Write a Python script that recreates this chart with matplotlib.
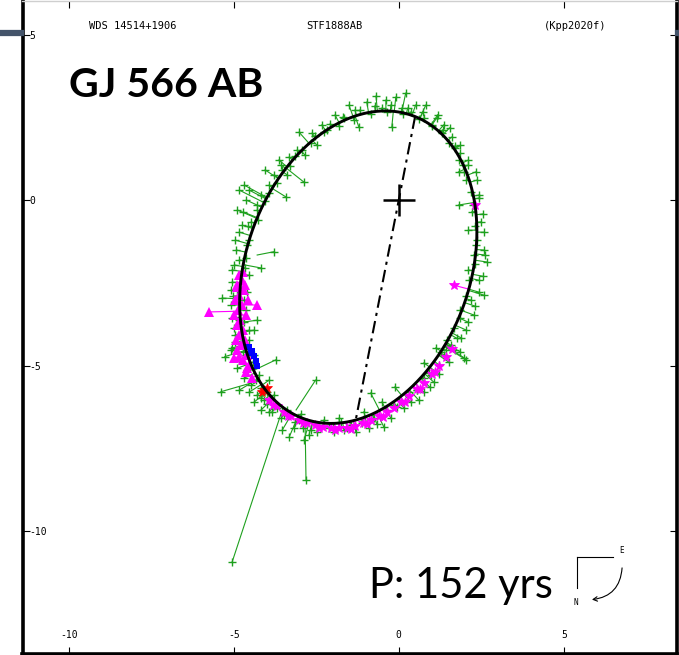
import numpy as np
import matplotlib
matplotlib.use("Agg")
import matplotlib.pyplot as plt
from matplotlib.patches import FancyArrowPatch
from matplotlib.lines import Line2D

plt.rcParams["axes.unicode_minus"] = False

# ---- orbital elements (arcsec / degrees) ----
period_yr = 152
semi_major = 4.95
ecc = 0.497
incl = 141.0
node_deg = 168.9
omega_deg = 25.2

# ---- micrometer / photographic measures (green), offsets in arcsec ----
top_x = [-3.08, -3.32, -2.84, -3.02, -2.63, -2.33, -1.93, -1.51, -1.21, -0.97, -0.69, -0.39,
         -0.09, -0.21, 0.21, 0.51, 0.82, 1.18, 1.30, 1.60, 1.51, 1.87, 1.96, 2.11, 1.81, 2.33,
         1.81, -2.87, -3.38, -3.41, -3.56, -3.78, -3.93, -4.17, -4.29, -4.53, -4.62, -4.05,
         -3.63, -2.48, -2.18, -1.66, -1.33, -0.51, 0.09, 0.36, 0.76, 1.00, 1.36, 1.69, 2.05,
         2.42, 2.24, 2.48, 2.11, -4.68,
         -4.56, -4.26, -4.29, -4.05, -3.93, -3.69, -3.53, -3.29, -3.14, -2.93, -2.66, -2.54,
         -2.27, -2.08, -1.81, -1.69, -1.36, -1.18, -0.85, -0.73, -0.36, -0.24, 0.12, 0.27,
         0.60, 0.73, 1.00, 1.15, 1.33, 1.54, 1.69, 1.87, 1.84, 2.11, 1.99, 2.36, 2.18, 2.42,
         2.21, 2.54, 2.30, 2.57]
top_y = [1.51, 1.30, 1.36, 2.05, 2.02, 2.27, 2.57, 2.87, 2.21, 2.96, 3.14, 3.02,
         3.11, 2.21, 3.23, 2.87, 2.87, 2.57, 2.02, 1.90, 1.72, 1.42, 1.06, 1.21, 0.85, 0.85,
         -0.15, 0.54, 0.76, 0.09, 1.06, 0.76, 0.45, 0.15, -0.15, 0.30, 0.00, 0.91,
         1.21, 1.66, 2.11, 2.48, 2.72, 2.78, 2.78, 2.66, 2.48, 2.27, 2.27, 1.57, 0.60,
         0.15, -0.15, -0.66, -0.91, 0.45,
         -0.79, -0.60, -0.30, -0.03, 0.21, 0.51, 0.91, 1.03, 1.33, 1.51, 1.72, 1.93,
         2.05, 2.30, 2.24, 2.51, 2.42, 2.72, 2.60, 2.84, 2.66, 2.87, 2.60, 2.78,
         2.45, 2.66, 2.24, 2.48, 2.11, 2.18, 1.63, 1.66, 1.21, 1.06, 0.85, 0.60, 0.24, 0.06,
         -0.36, -0.42, -0.79, -0.97]
right_x = [2.36, 2.57, 2.27, 2.66, 2.11, 2.42, 2.57, 2.18, 1.87, 2.27, 2.05, 1.75, 1.57,
           1.87, 2.05,
           2.33, 2.60, 2.30, 2.54, 2.14, 2.42, 2.05, 2.30, 1.87, 2.11, 1.66, 1.90, 1.45,
           1.69, 1.27, 1.51]
right_y = [-1.21, -1.51, -1.66, -1.87, -2.11, -2.42, -2.87, -3.02, -3.32, -3.47, -3.93,
           -4.17, -4.38, -4.59, -4.83,
           -1.36, -1.66, -1.93, -2.30, -2.42, -2.78, -2.90, -3.20, -3.56, -3.69, -3.87,
           -4.17, -4.23, -4.53, -4.59, -4.89]
bottom_x = [1.36, 1.21, 0.97, 0.76, 0.54, 0.30, 0.60, 0.00, -0.15, -0.36, -0.76, -1.06,
            -1.45, -1.66, -1.81, -2.11, -2.42, -2.66, -3.02, -3.17, -3.47, -3.69, -3.87,
            -3.99, -4.17, -3.93, -3.53, -3.32, -2.87, -2.72, -0.85, -0.12, -0.51, -0.06,
            0.54, 0.91, 0.94, 0.76, 1.12, 1.42, 1.99, -0.45, -1.57, -1.12,
            -3.84, -3.56, -3.38, -3.14, -2.90, -2.96, -2.48, -2.27, -1.96, -1.75, -1.30,
            -0.91, -0.66, -0.24, 0.15, 0.36, 0.76, 1.06, 1.21]
bottom_y = [-4.68, -4.98, -5.29, -5.38, -5.74, -5.80, -6.04, -6.04, -6.19, -6.34, -6.59,
            -6.40, -6.80, -6.95, -6.59, -6.89, -6.80, -6.95, -6.65, -6.89, -6.50, -6.28,
            -6.04, -5.80, -5.68, -6.40, -6.95, -7.16, -7.25, -7.10, -5.83, -5.65, -6.10,
            -6.25, -5.74, -5.23, -5.65, -4.92, -4.47, -4.53, -4.77, -6.86, -6.89, -6.74,
            -6.40, -6.59, -6.34, -6.71, -6.89, -6.46, -7.01, -6.65, -7.01, -6.71, -7.01,
            -6.89, -6.77, -6.59, -6.28, -6.10, -5.80, -5.50, -5.26]
left_x = [-4.83, -4.89, -4.74, -4.95, -4.59, -4.83, -5.05, -4.53, -4.89, -4.68, -5.08,
          -4.83, -4.53, -4.95, -4.68, -5.08, -4.38, -4.83, -4.59, -4.23, -4.47, -4.29,
          -4.08, -3.78, -4.17, -5.35, -5.08, -4.29, -4.38, -5.27, -5.05, -3.73, -3.93,
          -4.83, -4.18,
          -4.71, -4.47, -4.83, -4.53, -4.92, -4.62, -4.98, -4.65, -5.05, -4.59, -5.01,
          -4.62, -5.05, -4.68, -4.98, -4.53, -4.95, -4.71, -4.89, -4.41, -4.68, -4.32,
          -4.53, -4.17, -4.38, -3.99]
left_y = [0.30, -0.30, -0.76, -1.21, -1.36, -1.81, -2.11, -2.27, -2.72, -3.02, -3.17,
          -3.63, -3.93, -4.08, -4.38, -4.53, -4.68, -4.83, -5.14, -5.29, -5.59, -5.89,
          -6.04, -5.89, -6.34, -2.96, -2.72, -3.63, -3.93, -4.73, -4.47, -4.83, -5.44,
          -5.74, -2.05,
          -0.36, -0.66, -0.97, -1.21, -1.51, -1.75, -1.96, -2.05, -2.48, -2.78, -2.90,
          -3.32, -3.56, -3.69, -3.87, -4.23, -4.29, -4.59, -5.08, -4.89, -5.38, -5.44,
          -5.80, -5.98, -6.10, -6.16]

# discordant measures and their ephemeris positions
stray_x = [-5.05, -2.81, -2.52, -5.39, -3.78]
stray_y = [-10.94, -8.46, -5.44, -5.79, -1.56]
stray_ex = [-3.50, -2.84, -3.11, -4.48, -4.29]
stray_ey = [-6.25, -6.65, -6.34, -5.53, -1.66]

# ---- speckle measures (magenta) ----
speckle_x = [-3.93, -3.69, -3.47, -3.26, -3.02, -2.78, -2.54, -2.30, -2.05, -1.81, -1.57,
             -1.33, -1.09, -0.85, -0.60, -0.36, -0.15, 0.06, 0.30, 0.54, 0.76, 1.00, 1.21,
             1.42, 1.60, 1.66, 2.30, -3.80, -3.35, -2.90, -2.42, -1.93, -1.45, -0.97,
             -0.48, 0.18, 0.65, 1.10]
speckle_y = [-6.04, -6.22, -6.40, -6.53, -6.65, -6.74, -6.80, -6.86, -6.89, -6.89, -6.89,
             -6.83, -6.74, -6.65, -6.53, -6.40, -6.28, -6.10, -5.92, -5.71, -5.53, -5.26,
             -5.02, -4.74, -4.50, -2.57, -0.15, -6.20, -6.52, -6.75, -6.88, -6.95, -6.92,
             -6.78, -6.55, -6.10, -5.70, -5.20]
tri_x = [-5.74, -4.29, -4.89, -4.83, -4.59, -4.98, -4.71,
         -4.83, -4.74, -4.89, -4.68, -4.83, -4.95, -4.74, -4.86, -4.62, -4.80, -4.89,
         -4.71, -4.83, -4.65, -4.77, -4.89, -4.59, -4.71, -4.53, -4.62, -4.44, -4.56,
         -4.65, -4.98, -4.92]
tri_y = [-3.38, -3.17, -2.63, -4.74, -5.08, -4.77, -2.18,
         -2.27, -2.42, -2.57, -2.72, -2.87, -3.02, -3.17, -3.32, -3.47, -3.63, -3.78,
         -3.93, -4.08, -4.23, -4.38, -4.53, -4.68, -4.83, -4.98, -5.20, -5.38, -3.02,
         -2.57, -3.47, -4.23]

# ---- other techniques ----
blue_x = [-4.53, -4.44, -4.38, -4.32, -4.29, -4.47]
blue_y = [-4.44, -4.56, -4.71, -4.86, -5.02, -4.62]
red_x = [-4.14, -3.99, -4.08]
red_y = [-5.80, -5.68, -5.74]

tick_vals = [-10, -5, 0, 5]


def thiele_innes(a, i, Om, w):
    i, Om, w = np.radians([i, Om, w])
    A = a * (np.cos(w) * np.cos(Om) - np.sin(w) * np.sin(Om) * np.cos(i))
    B = a * (np.cos(w) * np.sin(Om) + np.sin(w) * np.cos(Om) * np.cos(i))
    F = a * (-np.sin(w) * np.cos(Om) - np.cos(w) * np.sin(Om) * np.cos(i))
    G = a * (-np.sin(w) * np.sin(Om) + np.cos(w) * np.cos(Om) * np.cos(i))
    return A, B, F, G


A, B, F, G = thiele_innes(semi_major, incl, node_deg, omega_deg)


def sky(v):
    """Plot coordinates (east right, north down) for true anomaly v."""
    r = (1 - ecc ** 2) / (1 + ecc * np.cos(v))
    xo, yo = r * np.cos(v), r * np.sin(v)
    north = A * xo + F * yo
    east = B * xo + G * yo
    return east, -north


orb_x, orb_y = sky(np.linspace(0, 2 * np.pi, 1441))
w = np.radians(omega_deg)
nodes_x, nodes_y = sky(np.array([-w, np.pi - w]))


def nearest_on_orbit(px, py):
    px, py = np.asarray(px), np.asarray(py)
    d2 = (px[:, None] - orb_x[None, :]) ** 2 + (py[:, None] - orb_y[None, :]) ** 2
    j = d2.argmin(axis=1)
    return orb_x[j], orb_y[j]


def residual_lines(ax, xs, ys, exs, eys, color):
    for x0, y0, x1, y1 in zip(xs, ys, exs, eys):
        ax.plot([x0, x1], [y0, y1], color=color, lw=0.8, zorder=2)


fig = plt.figure(figsize=(6.79, 6.55), dpi=100)
ax = fig.add_axes([22.5 / 679, 1.5 / 655, (677 - 22.5) / 679, (653.5 - 0.5) / 655])
ax.set_xlim(-11.40, 8.43)
ax.set_ylim(-13.70, 6.03)

green = "#1ea01e"
magenta = "#ff00ff"

gx = np.array(top_x + right_x + bottom_x + left_x)
gy = np.array(top_y + right_y + bottom_y + left_y)
ex, ey = nearest_on_orbit(gx, gy)
residual_lines(ax, gx, gy, ex, ey, green)
residual_lines(ax, stray_x, stray_y, stray_ex, stray_ey, green)
ax.plot(np.r_[gx, stray_x], np.r_[gy, stray_y], "+", color=green, ms=6, mew=1.0, zorder=3)

mx, my = np.array(speckle_x), np.array(speckle_y)
ex, ey = nearest_on_orbit(mx, my)
residual_lines(ax, mx, my, ex, ey, magenta)
ax.plot(mx, my, "*", color=magenta, ms=7, mew=0.6, zorder=4)
tx_, ty_ = np.array(tri_x), np.array(tri_y)
ex, ey = nearest_on_orbit(tx_, ty_)
residual_lines(ax, tx_, ty_, ex, ey, magenta)
ax.plot(tx_, ty_, "^", color=magenta, ms=7, mew=0, zorder=4)

ax.plot(blue_x, blue_y, "s", color="#0000ff", ms=4, mew=0, zorder=5)
ax.plot(red_x, red_y, "*", color="#ff0000", ms=7, mew=0.5, zorder=5)

ax.plot(orb_x, orb_y, color="black", lw=2.1, zorder=6)
ax.plot(nodes_x, nodes_y, color="black", lw=1.5, dashes=(6, 2.5, 1.5, 2.5), zorder=6)
ax.plot([0], [0], "+", color="black", ms=23, mew=1.8, zorder=7)

mono = "DejaVu Sans Mono"
ax.text(-8.07, 5.27, "WDS 14514+1906", family=mono, fontsize=7.5, ha="center", va="center")
ax.text(-1.96, 5.27, "STF1888AB", family=mono, fontsize=7.5, ha="center", va="center")
ax.text(5.35, 5.27, "(Kpp2020f)", family=mono, fontsize=7.5, ha="center", va="center")

ax.text(-10.0, 3.45, "GJ 566 AB", family="Lato", weight="bold", fontsize=29.5,
        ha="left", va="center")
ax.text(-0.90, -11.65, "P: 152 yrs", family="Lato", fontsize=30, ha="left", va="center")

# compass rose: east right, north down
ax.plot([5.41, 5.41], [-10.79, -11.72], color="black", lw=0.8)
ax.plot([5.41, 6.50], [-10.79, -10.79], color="black", lw=0.8)
ax.text(6.74, -10.60, "E", family=mono, fontsize=5.5, ha="center", va="center")
ax.text(5.35, -12.15, "N", family=mono, fontsize=5.5, ha="center", va="center")
ax.add_patch(FancyArrowPatch((6.77, -11.03), (5.77, -12.08), connectionstyle="arc3,rad=-0.45",
                             arrowstyle="->,head_length=3,head_width=1.6", lw=0.8, color="black"))

ax.set_xticks(tick_vals)
ax.set_yticks(tick_vals)
ax.set_xticklabels([str(v) for v in tick_vals], family=mono, fontsize=7, va="bottom")
ax.set_yticklabels([str(v) for v in tick_vals], family=mono, fontsize=7, ha="left")
ax.tick_params(axis="x", direction="in", length=5, width=0.8, top=True, pad=-10)
ax.tick_params(axis="y", direction="in", length=5, width=0.8, right=True, pad=-5)

for side in ("left", "bottom", "right"):
    ax.spines[side].set_linewidth(2.6)
    ax.spines[side].set_color("black")
ax.spines["top"].set_color("#cfcfcf")
ax.spines["top"].set_linewidth(1.0)

# slide rule stubs either side of the frame
fig.add_artist(Line2D([0, 20.5 / 679], [1 - 32.5 / 655] * 2, color="#44546a", lw=4.5))
fig.add_artist(Line2D([678 / 679, 1], [1 - 32.5 / 655] * 2, color="#44546a", lw=4.5))

fig.savefig("out.png", dpi=100)
